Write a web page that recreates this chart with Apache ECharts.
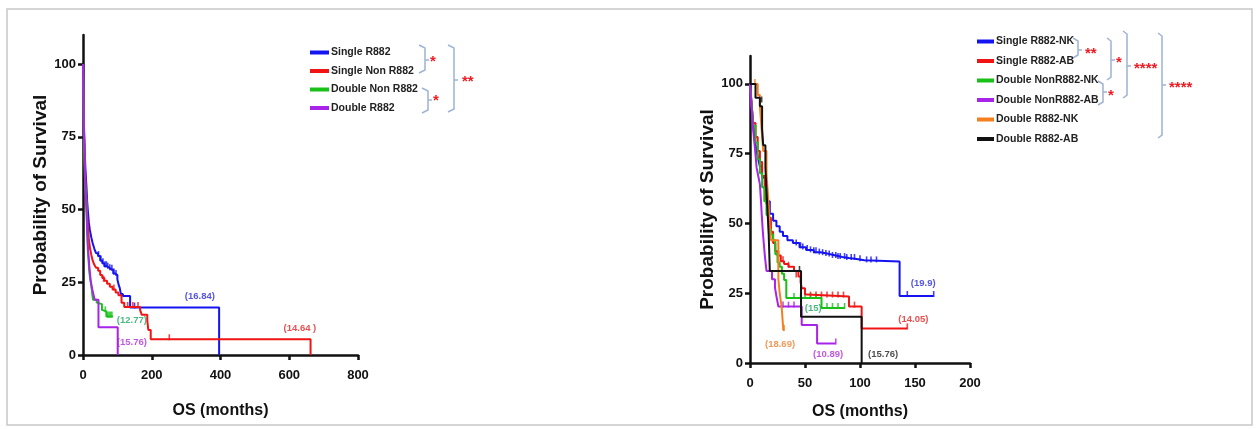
<!DOCTYPE html>
<html>
<head>
<meta charset="utf-8">
<script src="https://cdn.jsdelivr.net/npm/echarts@6/dist/echarts.min.js"></script>
<style>
  html, body { margin: 0; padding: 0; background: #fff; }
  #chart { width: 1256px; height: 429px; }
</style>
</head>
<body>
<div id="chart"></div>
<script>
// ---- data (survival %, months) ----
const survivalTicks = [0, 25, 50, 75, 100];
const leftTimeTicks = [0, 200, 400, 600, 800];
const rightTimeTicks = [0, 50, 100, 150, 200];

// left panel: step points [time, survival]
const singleR882 = [[0,100],[1,95],[2,88],[3,78],[5,70],[7,64],[10,58],[12,53],[14.5,49],[17,45.5],[20,43],[24,40.5],[28,38.5],[33,36.5],[38,35],[44,34],[50,32.5],[56,31.5],[62,30.5],[70,30],[76,29.5],[82,29.3],[88,28],[94,27.5],[100,26],[104,24],[107,23],[110,21],[116,20.3],[137,16.3],[396,0]];
const singleNonR882 = [[0,100],[1,94],[2,86],[3,76],[5,67],[7,60],[10,53],[12,48],[14.5,44],[17,40],[20,37],[24,34.5],[28,32.5],[33,31],[38,30],[44,29],[50,27.5],[56,26.5],[62,25.5],[70,24.5],[78,23.5],[86,22.5],[95,21.5],[103,20.5],[112,18],[120,16.5],[166,15.5],[171,13.8],[187,12],[190,8.6],[197,5.4],[662,0]];
const doubleNonR882 = [[0,100],[1,92],[2,82],[3,72],[5,63],[7,57],[10,53],[12,44],[14,36],[16,33],[18,29],[21,26],[24,24],[27,21],[29,19],[40,18],[45,17.5],[55,15.5],[60,15],[68,13.2],[87,13.2]];
const doubleR882 = [[0,100],[1,93],[2,85],[3,76],[5,67],[7,58],[10,50],[12,43],[15,36],[18,31],[22,26],[26,23],[30,21],[34,19],[45,9.5],[101,0]];

const singleR882Cens = [[45,34],[52,32.5],[58,31.5],[64,30.5],[68,30.5],[72,30],[78,29.5],[84,29.3],[90,28],[96,27.5],[150,16.3]];
const singleNonR882Cens = [[60,25.5],[90,22.5],[130,16.5],[145,16.5],[160,16.5],[251,5.4]];
const doubleNonR882Cens = [[65,15],[72,13.2],[76,13.2],[80,13.2],[84,13.2]];

// right panel
const singleR882NK = [[0,100],[1,95],[2,90],[3,85],[4.5,79],[6,76],[7.5,73],[9,70.5],[11,66.5],[13.5,62],[15.5,58],[18,53.5],[21,51],[24,49],[27,47],[30,45.5],[34,44],[39,43],[45,41.5],[51,40.5],[58,39.7],[64,39.2],[70,38.7],[76,38],[84,37.6],[90,37.3],[97,36.8],[104,36.4],[136,24],[167,24]];
const singleR882AB = [[0,100],[1,95],[2,90],[3,86],[5,81],[7,76],[9,72],[11,67],[13.5,62],[15,57],[17,52],[19,47],[21,43],[23,40],[25,38.5],[28,36.5],[31,35.5],[35,34.5],[40,33],[44,31],[46,29],[47,26.8],[50,24.5],[52,23.8],[90,20.2],[101.5,12.4],[143,12.4]];
const doubleNonR882NK = [[0,100],[1,95],[2,90],[3,85],[5,79],[7,73],[9,68],[11,63],[13,58],[15,53],[17,48],[19,46],[21,44],[23,39],[25,36],[27,34.5],[29,32],[31,29.7],[33,23.3],[65,19.7],[86,19.7]];
const doubleNonR882AB = [[0,100],[1,94],[2,88],[3,83],[4.5,77],[6,70],[7.5,67],[9,64],[10,58],[10.6,53.6],[11.5,48],[12.5,43],[13.6,38],[15,33],[20,30],[22.7,27],[24,24],[25.8,20.2],[47,13.6],[61,7],[78,7]];
const doubleR882NK = [[0,100],[4.5,100],[7,96],[9,92],[10.6,83.5],[12,76],[15,68],[16.7,58],[18,49],[19,44],[25.8,30],[27,25],[28.8,20],[30.3,11.8],[31,11.8]];
const doubleR882AB = [[0,100],[5,95],[9,92],[11,84],[12,78],[14,70],[15.5,58],[17,46],[18,33],[46.4,16.6],[101.5,0]];

const singleR882NKCens = [[42,42.5],[46,41.5],[48,41],[52,40.5],[55,40],[58,39.7],[60,39.7],[63,39.2],[66,39],[69,38.7],[72,38.5],[75,38],[78,38],[80,37.6],[82,37.6],[86,37.6],[88,37.3],[92,37.3],[95,37.3],[100,36.8],[106,36.4],[110,36.4],[115,36.4],[143,24],[167,24]];
const singleR882ABCens = [[26,38.5],[30,36.5],[35,34.5],[40,33],[42,31],[55,23.8],[60,23.8],[65,23.8],[70,23.8],[75,23.8],[80,23.8],[85,23.8],[95,20.2],[143,12.4]];
const doubleNonR882NKCens = [[40,23.3],[46,23.3],[50,23.3],[55,23.3],[60,23.3],[70,19.7],[75,19.7],[80,19.7],[86,19.7]];
const doubleNonR882ABCens = [[30,20.2],[35,20.2],[40,20.2],[78,7]];
const doubleR882NKCens = [[4.5,100],[31,11.8]];
const doubleR882ABCens = [[10.6,93.7],[45,33]];

// median labels [time, survival, text]
const leftMedians = [[340,20.3,'(16.84)'],[631,9.3,'(14.64 )'],[142,12,'(12.77)'],[142,4.5,'(15.76)']];
const rightMedians = [[157.5,28.6,'(19.9)'],[148.5,15.8,'(14.05)'],[57.5,19.7,'(15)'],[27.3,6.8,'(18.69)'],[71,3.2,'(10.89)'],[121,3.2,'(15.76)']];

const FONT = '"Liberation Sans", Arial, sans-serif';
const C = { blue:'#1414f0', red:'#f01414', green:'#18c018', purple:'#a824e8', orange:'#f57f1e', black:'#111111' };
const BR = '#9fb3d3';
const STAR = '#ee1c24';

const chart = echarts.init(document.getElementById('chart'));

function xAxisFor(gi, max, interval, gap) {
  return {
    type: 'value', gridIndex: gi, min: 0, max: max, interval: interval,
    name: 'OS (months)', nameLocation: 'middle', nameGap: gap,
    nameTextStyle: { fontFamily: FONT, fontWeight: 'bold', fontSize: 16, color: '#111' },
    axisLine: { lineStyle: { color: '#111', width: 2.5 } },
    axisTick: { length: 5, lineStyle: { color: '#111', width: 2.5 } },
    axisLabel: { fontFamily: FONT, fontWeight: 'bold', fontSize: 13, color: '#111', margin: 14 },
    splitLine: { show: false }
  };
}
function yAxisFor(gi, gap) {
  return {
    type: 'value', gridIndex: gi, min: 0, max: 110,
    name: 'Probability of Survival', nameLocation: 'middle', nameGap: gap,
    nameTextStyle: { fontFamily: FONT, fontWeight: 'bold', fontSize: 19, color: '#111' },
    axisLine: { show: true, lineStyle: { color: '#111', width: 2.5 } },
    axisTick: { show: true, length: 5, lineStyle: { color: '#111', width: 2.5 }, customValues: survivalTicks },
    axisLabel: { fontFamily: FONT, fontWeight: 'bold', fontSize: 13, color: '#111', margin: 7, customValues: survivalTicks },
    splitLine: { show: false }
  };
}
function km(name, data, color, gi) {
  return { name, type: 'line', step: 'end', data, xAxisIndex: gi, yAxisIndex: gi,
    showSymbol: false, symbol: 'none', lineStyle: { color, width: 2 }, itemStyle: { color }, silent: true };
}
function cens(name, data, color, gi) {
  return { name, type: 'scatter', data, xAxisIndex: gi, yAxisIndex: gi,
    symbol: 'rect', symbolSize: [1.6, 6], symbolOffset: [0, -2], itemStyle: { color }, silent: true };
}
function medians(data, colors, gi) {
  return { type: 'scatter', xAxisIndex: gi, yAxisIndex: gi, symbolSize: 0, silent: true,
    data: data.map((d, i) => ({ value: d, label: { color: colors[i] } })),
    label: { show: true, position: 'inside', formatter: p => p.value[2],
      fontFamily: FONT, fontWeight: 'bold', fontSize: 9.5 } };
}

// bracket "}" shape helper
function bracket(x, y1, y2, ym, arm) {
  return [
    { type: 'polyline', shape: { points: [[x - arm, y1], [x, y1 + 3], [x, y2 - 3], [x - arm, y2]] }, style: { stroke: BR, lineWidth: 1.5, fill: null } },
    { type: 'line', shape: { x1: x, y1: ym, x2: x + 4, y2: ym }, style: { stroke: BR, lineWidth: 1.5 } }
  ];
}
function stars(x, y, t) {
  return { type: 'text', x, y, style: { text: t, fill: STAR, font: 'bold 15px "Liberation Sans", Arial', align: 'left', verticalAlign: 'middle' } };
}

const graphics = [
  { type: 'rect', shape: { x: 7, y: 9, width: 1245, height: 416 }, style: { stroke: '#c8c8c8', lineWidth: 1.5, fill: null }, z: -1 },
  ...bracket(425, 45, 73, 60, 6), stars(430, 62, '*'),
  ...bracket(428, 88, 113, 100, 6), stars(433, 101, '*'),
  ...bracket(454, 45, 112, 80, 6), stars(462, 82, '**'),
  ...bracket(1078, 38, 58, 50, 5), stars(1085, 54, '**'),
  ...bracket(1111, 38, 80, 60, 4), stars(1116, 63, '*'),
  ...bracket(1103, 81, 105, 92, 5), stars(1108, 96, '*'),
  ...bracket(1127, 31, 98, 66, 4), stars(1134, 69, '****'),
  ...bracket(1162, 33, 138, 85, 4), stars(1169, 88, '****')
];

const legendText = { fontFamily: FONT, fontWeight: 'bold', fontSize: 10.5, color: '#222', padding: [0, 0, 0, -3] };

const option = {
  animation: false,
  backgroundColor: '#fff',
  grid: [
    { left: 83, right: 898, top: 35, bottom: 74 },
    { left: 750, right: 286, top: 56, bottom: 66 }
  ],
  xAxis: [xAxisFor(0, 800, 200, 48), xAxisFor(1, 200, 50, 41)],
  yAxis: [yAxisFor(0, 31), yAxisFor(1, 31)],
  legend: [
    { orient: 'vertical', left: 310, top: 47, padding: 0, itemWidth: 19, itemHeight: 4, itemGap: 7.5, icon: 'rect',
      textStyle: legendText, selectedMode: false,
      data: ['Single R882', 'Single Non R882', 'Double Non R882', 'Double R882'] },
    { orient: 'vertical', left: 977, top: 36, padding: 0, itemWidth: 17, itemHeight: 4, itemGap: 8.5, icon: 'rect',
      textStyle: legendText, selectedMode: false,
      data: ['Single R882-NK', 'Single R882-AB', 'Double NonR882-NK', 'Double NonR882-AB', 'Double R882-NK', 'Double R882-AB'] }
  ],
  graphic: graphics,
  series: [
    km('Single R882', singleR882, C.blue, 0),
    km('Single Non R882', singleNonR882, C.red, 0),
    km('Double Non R882', doubleNonR882, C.green, 0),
    km('Double R882', doubleR882, C.purple, 0),
    cens('Single R882', singleR882Cens, C.blue, 0),
    cens('Single Non R882', singleNonR882Cens, C.red, 0),
    cens('Double Non R882', doubleNonR882Cens, C.green, 0),
    medians(leftMedians, ['#2b2bd8', '#e02424', '#1fa860', '#b030d8'], 0),

    km('Single R882-NK', singleR882NK, C.blue, 1),
    km('Single R882-AB', singleR882AB, C.red, 1),
    km('Double NonR882-NK', doubleNonR882NK, C.green, 1),
    km('Double NonR882-AB', doubleNonR882AB, C.purple, 1),
    km('Double R882-NK', doubleR882NK, C.orange, 1),
    km('Double R882-AB', doubleR882AB, C.black, 1),
    cens('Single R882-NK', singleR882NKCens, C.blue, 1),
    cens('Single R882-AB', singleR882ABCens, C.red, 1),
    cens('Double NonR882-NK', doubleNonR882NKCens, C.green, 1),
    cens('Double NonR882-AB', doubleNonR882ABCens, C.purple, 1),
    cens('Double R882-NK', doubleR882NKCens, C.orange, 1),
    cens('Double R882-AB', doubleR882ABCens, C.black, 1),
    medians(rightMedians, ['#2b2bd8', '#e02424', '#1fa860', '#f08030', '#b030d8', '#222'], 1)
  ]
};

chart.setOption(option);
</script>
</body>
</html>
